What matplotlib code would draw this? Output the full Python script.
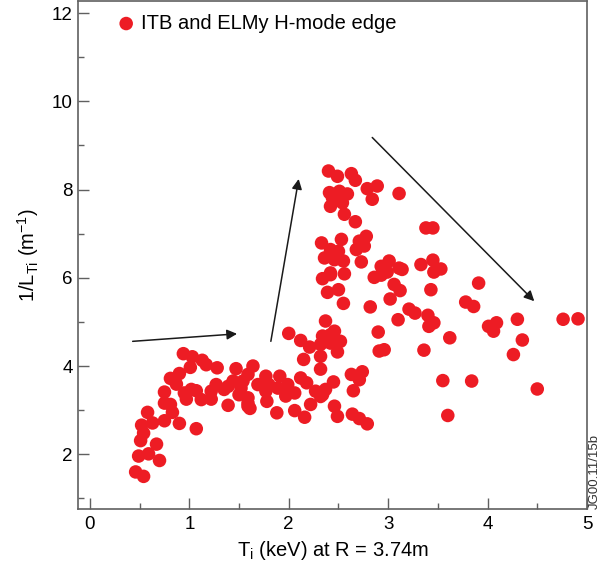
import matplotlib
matplotlib.use("Agg")
import matplotlib.pyplot as plt
from matplotlib.ticker import MultipleLocator

plt.rcParams['font.family'] = ['Liberation Sans', 'DejaVu Sans']
plt.rcParams['mathtext.fontset'] = 'custom'
plt.rcParams['mathtext.rm'] = 'Liberation Sans'
plt.rcParams['mathtext.it'] = 'Liberation Sans:italic'

# ion temperature (keV) at R = 3.74m and inverse gradient length 1/L_Ti (1/m)
# L-mode / low-gradient branch
ti_low = [0.94, 1.03, 1.13, 1.17, 1.01, 1.28, 1.47, 0.90, 0.81, 0.87,
          0.75, 0.95, 1.07, 1.12, 1.22, 1.27, 1.39, 1.44, 1.52, 1.39,
          0.75, 0.81, 0.83, 0.58, 0.63, 0.75, 0.90, 1.07, 0.52, 0.54,
          0.51, 0.67, 0.59, 0.49, 0.70, 0.46, 0.54, 1.59, 1.02, 1.35,
          1.50, 1.59, 1.22, 0.97]
grad_low = [4.28, 4.21, 4.13, 4.03, 3.97, 3.96, 3.94, 3.83, 3.72, 3.59,
            3.41, 3.39, 3.44, 3.24, 3.43, 3.58, 3.54, 3.66, 3.50, 3.11,
            3.16, 3.13, 2.95, 2.95, 2.71, 2.76, 2.70, 2.58, 2.66, 2.48,
            2.31, 2.23, 2.01, 1.96, 1.86, 1.60, 1.50, 3.09, 3.47, 3.47,
            3.35, 3.28, 3.25, 3.25]

# transition region
ti_mid = [2.00, 2.12, 2.21, 2.34, 2.42, 2.32, 2.42, 2.52, 2.49, 2.32,
          2.15, 2.32, 1.64, 1.59, 1.54, 1.77, 1.91, 1.69, 1.80, 1.99,
          1.89, 1.77, 2.06, 1.97, 2.12, 2.18, 2.27, 2.34, 2.37, 2.45,
          2.32, 1.78, 1.59, 1.61, 1.88, 2.06, 2.16, 2.22, 2.46, 2.49,
          2.64, 2.71, 2.79, 2.63, 2.74, 2.71, 2.65, 2.91,
          2.34, 2.42, 2.56, 2.39, 2.50, 2.55, 2.86, 2.93, 2.99, 3.06,
          3.02, 2.82, 2.37, 2.46, 2.90, 3.10, 2.96]
grad_mid = [4.74, 4.58, 4.43, 4.68, 4.71, 4.49, 4.52, 4.56, 4.32, 4.22,
            4.15, 3.93, 4.00, 3.81, 3.66, 3.77, 3.77, 3.58, 3.58, 3.58,
            3.50, 3.43, 3.39, 3.32, 3.73, 3.62, 3.43, 3.35, 3.47, 3.64,
            3.31, 3.20, 3.16, 3.04, 2.94, 2.99, 2.84, 3.13, 3.09, 2.86,
            2.91, 2.81, 2.69, 3.81, 3.87, 3.69, 3.44, 4.34,
            5.98, 6.07, 6.09, 5.67, 5.73, 5.42, 6.01, 6.06, 6.13, 5.85,
            5.52, 5.34, 5.02, 4.79, 4.77, 5.05, 4.37]

# ITB formation, high gradient
ti_itb = [2.40, 2.49, 2.63, 2.67, 2.79, 2.89, 2.84, 2.41, 2.51, 2.59,
          2.44, 2.54, 2.42, 2.56, 2.67, 3.11, 2.33, 2.53, 2.78, 2.71,
          2.42, 2.50, 2.68, 2.76, 2.36, 2.46, 2.55, 2.73, 2.93, 3.01,
          3.11, 2.42]
grad_itb = [8.42, 8.30, 8.36, 8.21, 8.02, 8.08, 7.78, 7.93, 7.96, 7.90,
            7.81, 7.70, 7.62, 7.44, 7.27, 7.91, 6.79, 6.87, 6.94, 6.83,
            6.64, 6.60, 6.64, 6.72, 6.45, 6.41, 6.38, 6.36, 6.26, 6.38,
            6.22, 6.11]

# high temperature, relaxing gradient
ti_high = [3.38, 3.45, 3.14, 3.33, 3.45, 3.53, 3.46, 3.12, 3.43, 3.91,
           3.21, 3.27, 3.40, 3.46, 3.41, 3.78, 3.86, 3.62, 4.01, 4.09,
           4.06, 4.30, 4.35, 4.26, 4.76, 4.91, 3.36, 3.55, 3.84, 4.50,
           3.60]
grad_high = [7.13, 7.13, 6.19, 6.30, 6.40, 6.20, 6.13, 5.71, 5.73, 5.88,
             5.29, 5.20, 5.15, 4.98, 4.90, 5.45, 5.35, 4.64, 4.90, 4.98,
             4.79, 5.06, 4.59, 4.26, 5.06, 5.07, 4.36, 3.67, 3.66, 3.48,
             2.88]

# trend arrows: (start, end) in data units
arrows = [((0.43, 4.56), (1.48, 4.73)),
          ((1.82, 4.56), (2.10, 8.24)),
          ((2.84, 9.18), (4.47, 5.47))]

red = '#ED1C24'
axis_grey = '#606060'

fig = plt.figure(figsize=(6.07, 5.65), dpi=100)
ax = fig.add_axes([0.1293, 0.0991, 0.8377, 0.8989])

ti = ti_low + ti_mid + ti_itb + ti_high
grad = grad_low + grad_mid + grad_itb + grad_high
ax.scatter(ti, grad, s=95, color=red, edgecolors='none',
           label='ITB and ELMy H-mode edge', zorder=3)

for (x0, y0), (x1, y1) in arrows:
    ax.annotate('', xy=(x1, y1), xytext=(x0, y0),
                arrowprops=dict(arrowstyle='-|>', color='#1a1a1a', lw=1.1,
                                mutation_scale=15, shrinkA=0, shrinkB=0))

ax.set_xlim(-0.115, 5.0)
ax.set_ylim(0.76, 12.27)
ax.xaxis.set_major_locator(MultipleLocator(1))
ax.xaxis.set_minor_locator(MultipleLocator(0.5))
ax.yaxis.set_major_locator(MultipleLocator(2))
ax.yaxis.set_minor_locator(MultipleLocator(1))
ax.tick_params(which='both', direction='in', color=axis_grey, width=1.0,
               labelsize=13.5, top=False, right=False)
ax.tick_params(which='major', length=8)
ax.tick_params(which='minor', length=4.5)
ax.tick_params(axis='y', pad=4)
ax.tick_params(axis='x', pad=5)
for sp in ax.spines.values():
    sp.set_color(axis_grey)
    sp.set_linewidth(1.2)

ax.set_xlabel(r'T$_{\mathrm{i}}$ (keV) at R = 3.74m', fontsize=14.5, labelpad=4)
ax.set_ylabel(r'1/L$_{\mathrm{Ti}}$ (m$^{-1}$)', fontsize=14.5, labelpad=8)

ax.legend(loc='upper left', bbox_to_anchor=(0.074, 0.975), frameon=False,
          fontsize=14.5, handlelength=1.0, handletextpad=0.25,
          borderpad=0, borderaxespad=0, scatterpoints=1)

ax.text(1.004, 0.0, 'JG00.11/15b', transform=ax.transAxes, rotation=90,
        ha='left', va='bottom', fontsize=9.5, color='#333333')

fig.savefig('out.png', dpi=100)
